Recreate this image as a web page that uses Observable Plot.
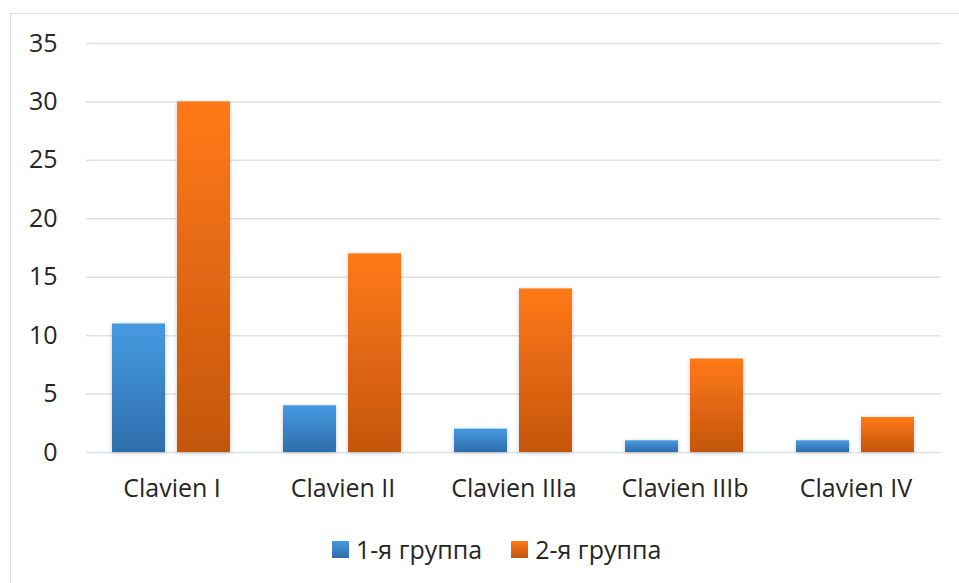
<!DOCTYPE html>
<html>
<head>
<meta charset="utf-8">
<script src="https://cdn.jsdelivr.net/npm/d3@7"></script>
<script src="https://cdn.jsdelivr.net/npm/@observablehq/plot@0.6"></script>
<style>
  html, body { margin: 0; padding: 0; background: #fff; }
  #wrap { position: relative; width: 959px; height: 583px; overflow: hidden; font-family: "Open Sans", sans-serif; }
  #frame { position: absolute; left: 10px; top: 13px; width: 1200px; height: 1200px; border: 1px solid #D9DEE4; box-sizing: border-box; }
  #chart { position: absolute; left: 0; top: 0; }
  #legend { position: absolute; left: 332px; top: 529px; display: flex; align-items: center; font-size: 25px; color: #262626; }
  .sw { width: 17px; height: 17px; display: inline-block; margin-right: 7px; }
  .item { display: flex; align-items: center; margin-right: 29px; line-height: 40px; }
</style>
</head>
<body>
<div id="wrap">
  <div id="frame"></div>
  <div id="chart"></div>
  <div id="legend"></div>
</div>
<script>
const categories = ["Clavien I", "Clavien II", "Clavien IIIa", "Clavien IIIb", "Clavien IV"];
const groups = ["1-я группа", "2-я группа"];
const group1 = [11, 4, 2, 1, 1];
const group2 = [30, 17, 14, 8, 3];
const yTicks = [0, 5, 10, 15, 20, 25, 30, 35];
const gradients = [["#469AE2", "#2E6DAB"], ["#FF7915", "#C4560F"]];

const data = categories.flatMap((c, i) => [
  {cat: c, group: groups[0], value: group1[i]},
  {cat: c, group: groups[1], value: group2[i]}
]);

const svg = Plot.plot({
  width: 959,
  height: 520,
  marginTop: 43,
  marginBottom: 68,
  marginLeft: 84,
  marginRight: 16,
  style: {fontFamily: "Open Sans, sans-serif", fontSize: "25px", color: "#262626", background: "transparent"},
  fx: {domain: categories, padding: 0, label: null},
  x: {domain: groups, paddingInner: 0.18, paddingOuter: 0.39, axis: null},
  y: {domain: [0, 35], label: null},
  color: {domain: groups, range: ["url(#gBlue)", "url(#gOrange)"]},
  marks: [
    Plot.ruleY(yTicks, {stroke: "#DDE2E8", strokeWidth: 1.5}),
    Plot.axisY({ticks: yTicks, tickSize: 0, tickPadding: 29, label: null, fill: "#262626"}),
    Plot.axisFx({anchor: "bottom", tickSize: 0, tickPadding: 27, label: null, fill: "#262626"}),
    Plot.barY(data, {fx: "cat", x: "group", y: "value", fill: "group"})
  ]
});

const defs = d3.select(svg).insert("defs", ":first-child");
[["gBlue", gradients[0]], ["gOrange", gradients[1]]].forEach(([id, [top, bottom]]) => {
  const g = defs.append("linearGradient").attr("id", id).attr("x1", 0).attr("y1", 0).attr("x2", 0).attr("y2", 1);
  g.append("stop").attr("offset", "0%").attr("stop-color", top);
  g.append("stop").attr("offset", "100%").attr("stop-color", bottom);
});
const f = defs.append("filter").attr("id", "shadow").attr("x", "-30%").attr("y", "-60%").attr("width", "160%").attr("height", "220%");
f.append("feDropShadow").attr("dx", 0).attr("dy", 1).attr("stdDeviation", 2).attr("flood-color", "#000").attr("flood-opacity", 0.22);
d3.select(svg).selectAll("g[aria-label='bar'] rect").attr("filter", "url(#shadow)");

document.getElementById("chart").appendChild(svg);

const legend = d3.select("#legend");
groups.forEach((g, i) => {
  const it = legend.append("div").attr("class", "item");
  it.append("span").attr("class", "sw")
    .style("background", `linear-gradient(to bottom, ${gradients[i][0]}, ${gradients[i][1]})`);
  it.append("span").text(g);
});
</script>
</body>
</html>
